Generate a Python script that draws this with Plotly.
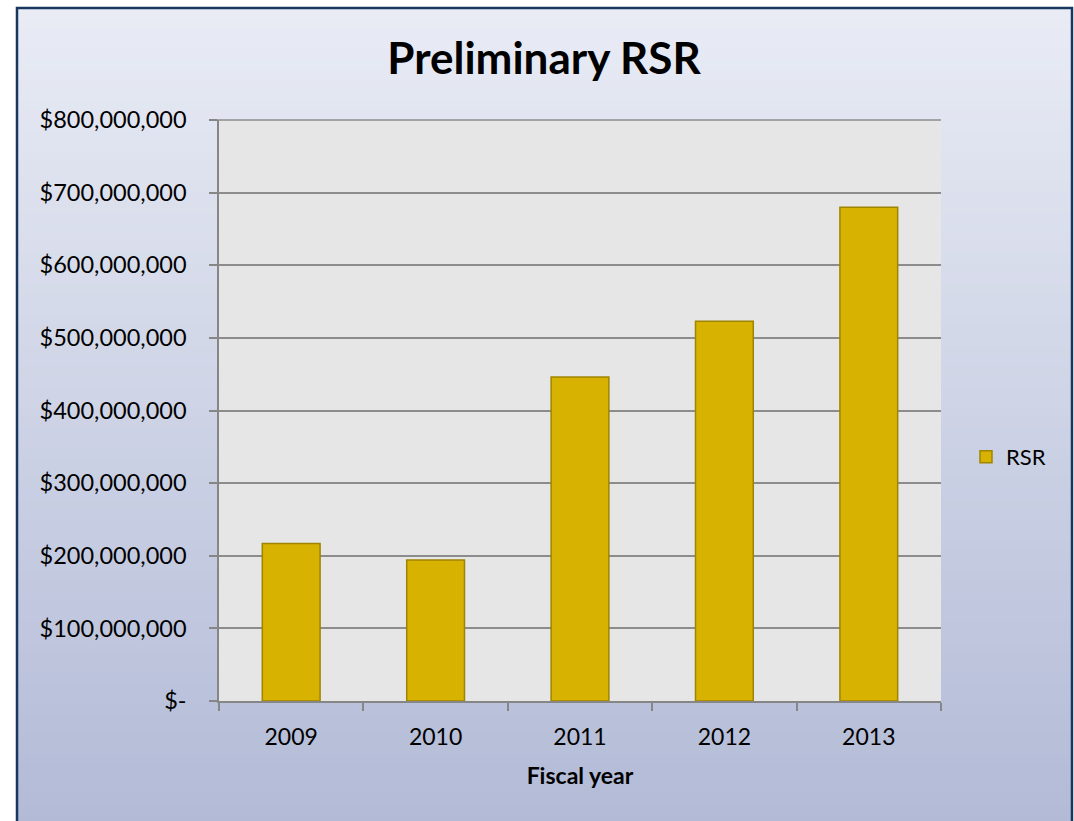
import plotly.graph_objects as go

# ---- data ----
years = ["2009", "2010", "2011", "2012", "2013"]
rsr_values = [217_000_000, 194_000_000, 446_000_000, 523_000_000, 680_000_000]
y_tick_values = [0, 100_000_000, 200_000_000, 300_000_000, 400_000_000,
                 500_000_000, 600_000_000, 700_000_000, 800_000_000]
y_tick_labels = ["$-", "$100,000,000", "$200,000,000", "$300,000,000", "$400,000,000",
                 "$500,000,000", "$600,000,000", "$700,000,000", "$800,000,000"]

W, H = 1074, 821
L, R, T, B = 219, 133, 120, 120
PW, PH = W - L - R, H - T - B

def px_x(x):
    return (x - L) / PW

def px_y(y):
    return (H - B - y) / PH

FONT = "Lato"

fig = go.Figure()
fig.add_trace(go.Bar(
    x=years, y=rsr_values, name="RSR",
    marker=dict(color="#d8b200", line=dict(color="#9e8400", width=1.5)),
    width=0.4,
))

shapes = []
# gradient background inside the border
top_c = (233, 236, 245)
bot_c = (178, 186, 214)
y0_px, y1_px = 8, H + 5
n = 80
for i in range(n):
    a = y0_px + (y1_px - y0_px) * i / n
    b = y0_px + (y1_px - y0_px) * (i + 1) / n + 1
    t = (i + 0.5) / n
    c = tuple(round(top_c[k] + (bot_c[k] - top_c[k]) * t) for k in range(3))
    shapes.append(dict(type="rect", xref="paper", yref="paper",
                       x0=px_x(17), x1=px_x(1072), y0=px_y(b), y1=px_y(a),
                       fillcolor="rgb(%d,%d,%d)" % c, line=dict(width=0), layer="below"))
# plot area background
shapes.append(dict(type="rect", xref="paper", yref="paper", x0=0, x1=1, y0=0, y1=1,
                   fillcolor="#e6e6e6", line=dict(width=0), layer="below"))
# top gridline (at 800M)
shapes.append(dict(type="line", xref="paper", yref="paper", x0=px_x(211), x1=1, y0=1, y1=1,
                   line=dict(color="#8c8c8c", width=1.5), layer="below"))
# border
shapes.append(dict(type="rect", xref="paper", yref="paper",
                   x0=px_x(17), x1=px_x(1072), y0=px_y(H + 10), y1=px_y(8),
                   fillcolor="rgba(0,0,0,0)", line=dict(color="#17375e", width=2.5),
                   layer="below"))

fig.update_layout(
    width=W, height=H,
    margin=dict(l=L, r=R, t=T, b=B),
    paper_bgcolor="white",
    plot_bgcolor="#e6e6e6",
    shapes=shapes,
    title=dict(text="<b>Preliminary RSR</b>", x=px_x(544), xref="paper", xanchor="center",
               y=1 - 59 / H, yanchor="middle",
               font=dict(family=FONT, size=44, color="black")),
    font=dict(family=FONT, color="black"),
    showlegend=True,
    legend=dict(x=px_x(966), y=px_y(457), xanchor="left", yanchor="middle",
                bgcolor="rgba(0,0,0,0)", font=dict(family=FONT, size=22, color="black"),
                itemwidth=30),
    bargap=0.6,
)
fig.update_xaxes(
    type="category", tickson="boundaries", ticks="outside", ticklen=8,
    tickcolor="#868686", tickwidth=1.5,
    showline=True, linecolor="#868686", linewidth=1.5,
    showgrid=False,
    tickfont=dict(family=FONT, size=23, color="black"),
    ticklabelstandoff=15,
    title=dict(text="<b>Fiscal year</b>", font=dict(family=FONT, size=23, color="black"), standoff=19),
)
fig.update_yaxes(
    range=[0, 800_000_000], tickvals=y_tick_values, ticktext=y_tick_labels,
    ticks="outside", ticklen=8, tickcolor="#868686", tickwidth=1.5,
    showline=True, linecolor="#868686", linewidth=1.5,
    showgrid=True, gridcolor="#8c8c8c", gridwidth=1.5,
    zeroline=False,
    tickfont=dict(family=FONT, size=23.5, color="black"),
    ticklabelstandoff=18,
)

fig.write_html("out.html", config={"displayModeBar": False},
               post_script="document.body.style.margin='0px';document.body.style.padding='0px';")
